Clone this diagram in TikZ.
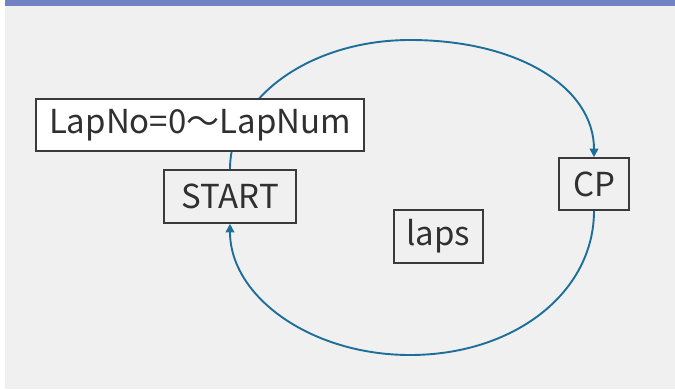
\documentclass[tikz,border=0pt]{standalone}
\usepackage{fontspec}
\newfontfamily\jpfont{Noto Sans CJK JP}
\usetikzlibrary{arrows.meta}
\definecolor{barblue}{HTML}{7282C4}
\definecolor{panelgray}{HTML}{F0F0F0}
\definecolor{loopblue}{HTML}{1D6E9A}
\definecolor{boxline}{HTML}{3A3A3A}
\definecolor{txt}{HTML}{303030}
\pgfdeclarelayer{back}
\pgfdeclarelayer{arcs}
\pgfsetlayers{back,arcs,main}
\tikzset{
  stepbox/.style={draw=boxline, line width=1.6pt, inner sep=0pt, text=txt,
    font=\jpfont\fontsize{33}{33}\selectfont, anchor=center},
  loop/.style={draw=loopblue, line width=1.9pt,
    -{Triangle[length=8.5pt,width=8.5pt]}},
}
\begin{document}
\begin{tikzpicture}[x=1pt,y=-1pt]
  % page, panel and title bar
  \begin{pgfonlayer}{back}
    \fill[white] (0,0) rectangle (675,389);
    \fill[panelgray] (5,6) rectangle (675,389);
    \fill[barblue] (5,0) rectangle (675,6);
  \end{pgfonlayer}
  \useasboundingbox (0,0) rectangle (675,389);

  % boxes
  \node[stepbox, fill=white, minimum width=328pt, minimum height=52pt] (lapno) at (200,125) {LapNo=0〜LapNum};
  \node[stepbox, minimum width=132pt, minimum height=53pt] (start) at (230,196.5) {START};
  \node[stepbox, minimum width=70pt, minimum height=52pt] (cp) at (594,184) {CP};
  \node[stepbox, minimum width=89pt, minimum height=53pt] (laps) at (438.5,236.5) {laps};

  % turning points of the loop
  \coordinate (top) at (410,40);
  \coordinate (bottom) at (410,355);

  % the loop: START -> CP over the top, CP -> START underneath
  \begin{pgfonlayer}{arcs}
    \draw[loop] (start.north) .. controls +(0,-72) and +(-99,0) .. (top)
                              .. controls +(108,0) and +(0,-70) .. (cp.north);
    \draw[loop] (cp.south) .. controls +(0,82) and +(104,0) .. (bottom)
                           .. controls +(-99,0) and +(0,73) .. (start.south);
  \end{pgfonlayer}
\end{tikzpicture}
\end{document}
